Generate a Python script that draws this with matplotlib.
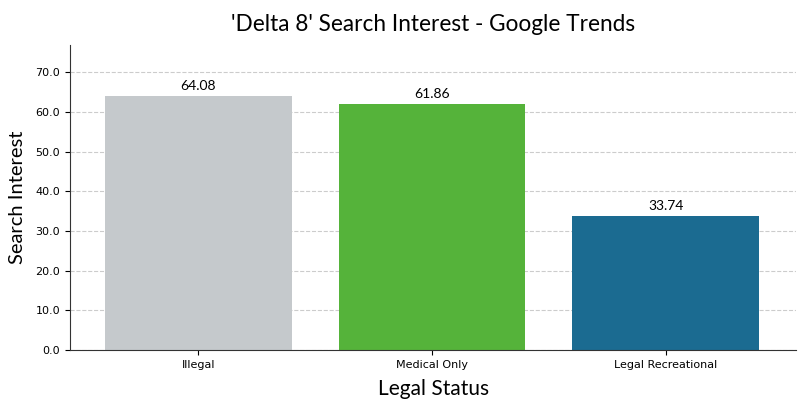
import matplotlib
matplotlib.use("Agg")
import matplotlib.pyplot as plt
from matplotlib.ticker import FormatStrFormatter

categories = ["Illegal", "Medical Only", "Legal Recreational"]
interest = [64.08, 61.86, 33.74]
bar_colors = ["#c5c9cc", "#55b33a", "#1b6b91"]

fig = plt.figure(figsize=(8, 4.07), dpi=100)
ax = fig.add_axes([0.0875, 0.14, 0.908, 0.75])

x = range(len(categories))
bars = ax.bar(x, interest, width=0.8, color=bar_colors, zorder=2)
for b, v in zip(bars, interest):
    ax.text(b.get_x() + b.get_width() / 2, v + 1.0, f"{v:.2f}", ha="center", va="bottom",
            fontsize=10, family="Lato")

ax.set_xticks(list(x))
ax.set_xticklabels(categories, fontsize=8)
ax.tick_params(axis="y", labelsize=8)
ax.yaxis.set_major_formatter(FormatStrFormatter("%.1f"))
ax.set_yticks([0, 10, 20, 30, 40, 50, 60, 70])
ax.set_ylim(0, max(interest) * 1.2)
ax.set_xlim(-0.55, 2.56)

ax.grid(axis="y", linestyle="--", color="#cccccc", linewidth=0.8, zorder=0)
ax.spines["top"].set_visible(False)
ax.spines["right"].set_visible(False)
ax.spines["left"].set_color("#333333")
ax.spines["bottom"].set_color("#333333")

ax.set_xlabel("Legal Status", fontsize=15, family="Lato", labelpad=7)
ax.set_ylabel("Search Interest", fontsize=14.5, family="Lato", labelpad=7)
ax.set_title("'Delta 8' Search Interest - Google Trends", fontsize=16.3, family="Lato", pad=10)

fig.savefig("out.png", dpi=100)
